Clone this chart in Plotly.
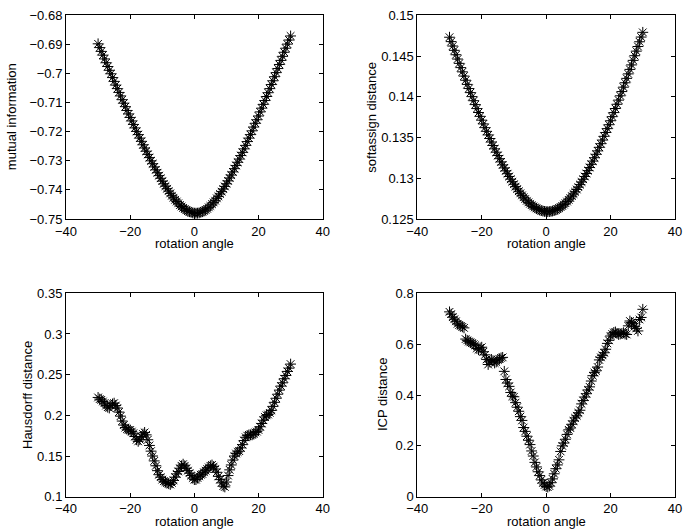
import plotly.graph_objects as go

# rotation angles (degrees), -30 .. 30 in 0.5 steps
angle = [i * 0.5 for i in range(-60, 61)]

mutual_information = [
    -0.6898, -0.6911, -0.6924, -0.6937, -0.6950, -0.6963, -0.6976, -0.6989, -0.7001, -0.7014,
    -0.7027, -0.7040, -0.7052, -0.7065, -0.7077, -0.7090, -0.7102, -0.7114, -0.7127, -0.7139,
    -0.7151, -0.7163, -0.7175, -0.7187, -0.7199, -0.7210, -0.7222, -0.7233, -0.7245, -0.7256,
    -0.7267, -0.7278, -0.7289, -0.7300, -0.7310, -0.7321, -0.7331, -0.7341, -0.7351, -0.7360,
    -0.7370, -0.7379, -0.7387, -0.7396, -0.7404, -0.7412, -0.7420, -0.7427, -0.7434, -0.7440,
    -0.7446, -0.7452, -0.7457, -0.7462, -0.7466, -0.7470, -0.7473, -0.7475, -0.7477, -0.7479,
    -0.7480, -0.7480, -0.7480, -0.7479, -0.7477, -0.7475, -0.7472, -0.7469, -0.7465, -0.7460,
    -0.7455, -0.7449, -0.7443, -0.7437, -0.7429, -0.7422, -0.7414, -0.7406, -0.7397, -0.7388,
    -0.7379, -0.7369, -0.7359, -0.7349, -0.7338, -0.7327, -0.7316, -0.7305, -0.7294, -0.7282,
    -0.7271, -0.7259, -0.7247, -0.7234, -0.7222, -0.7210, -0.7197, -0.7184, -0.7171, -0.7159,
    -0.7146, -0.7132, -0.7119, -0.7106, -0.7093, -0.7079, -0.7066, -0.7052, -0.7038, -0.7025,
    -0.7011, -0.6997, -0.6983, -0.6969, -0.6955, -0.6941, -0.6927, -0.6913, -0.6899, -0.6885,
    -0.6871,
]

softassign_distance = [
    0.14731, 0.14677, 0.14623, 0.14570, 0.14516, 0.14463, 0.14410, 0.14358, 0.14306, 0.14254,
    0.14203, 0.14152, 0.14101, 0.14051, 0.14002, 0.13952, 0.13904, 0.13855, 0.13807, 0.13760,
    0.13713, 0.13667, 0.13621, 0.13576, 0.13532, 0.13488, 0.13445, 0.13402, 0.13361, 0.13320,
    0.13279, 0.13240, 0.13201, 0.13164, 0.13127, 0.13091, 0.13056, 0.13022, 0.12989, 0.12957,
    0.12927, 0.12897, 0.12868, 0.12841, 0.12815, 0.12790, 0.12767, 0.12745, 0.12724, 0.12704,
    0.12687, 0.12670, 0.12655, 0.12642, 0.12630, 0.12619, 0.12610, 0.12603, 0.12597, 0.12593,
    0.12591, 0.12590, 0.12591, 0.12594, 0.12598, 0.12604, 0.12612, 0.12621, 0.12633, 0.12646,
    0.12660, 0.12677, 0.12694, 0.12714, 0.12735, 0.12757, 0.12781, 0.12807, 0.12834, 0.12862,
    0.12891, 0.12922, 0.12954, 0.12988, 0.13022, 0.13058, 0.13094, 0.13132, 0.13171, 0.13211,
    0.13252, 0.13294, 0.13336, 0.13380, 0.13424, 0.13469, 0.13515, 0.13562, 0.13609, 0.13657,
    0.13706, 0.13756, 0.13806, 0.13856, 0.13908, 0.13959, 0.14012, 0.14064, 0.14118, 0.14172,
    0.14226, 0.14281, 0.14336, 0.14391, 0.14447, 0.14504, 0.14560, 0.14617, 0.14675, 0.14733,
    0.14791,
]

hausdorff_distance = [
    0.222, 0.220, 0.219, 0.217, 0.215, 0.212, 0.210, 0.209, 0.212, 0.214,
    0.215, 0.212, 0.209, 0.204, 0.199, 0.193, 0.188, 0.185, 0.183, 0.182,
    0.182, 0.180, 0.178, 0.174, 0.170, 0.168, 0.170, 0.174, 0.177, 0.179,
    0.176, 0.170, 0.163, 0.156, 0.150, 0.144, 0.138, 0.132, 0.127, 0.124,
    0.121, 0.119, 0.118, 0.117, 0.116, 0.115, 0.117, 0.120, 0.124, 0.128,
    0.131, 0.135, 0.138, 0.140, 0.138, 0.135, 0.132, 0.129, 0.126, 0.123,
    0.121, 0.121, 0.123, 0.125, 0.127, 0.128, 0.130, 0.132, 0.134, 0.136,
    0.138, 0.139, 0.137, 0.134, 0.130, 0.125, 0.121, 0.117, 0.113, 0.112,
    0.118, 0.126, 0.133, 0.139, 0.145, 0.150, 0.153, 0.155, 0.156, 0.160,
    0.164, 0.169, 0.173, 0.175, 0.176, 0.176, 0.176, 0.177, 0.179, 0.180,
    0.182, 0.186, 0.190, 0.194, 0.198, 0.200, 0.201, 0.203, 0.206, 0.211,
    0.216, 0.221, 0.226, 0.231, 0.236, 0.240, 0.245, 0.249, 0.254, 0.258,
    0.263,
]

icp_distance = [
    0.727, 0.718, 0.706, 0.698, 0.690, 0.680, 0.675, 0.672, 0.668, 0.664,
    0.620, 0.615, 0.610, 0.607, 0.604, 0.600, 0.596, 0.583, 0.578, 0.585,
    0.588, 0.570, 0.558, 0.540, 0.520, 0.530, 0.540, 0.535, 0.526, 0.530,
    0.538, 0.542, 0.546, 0.548, 0.493, 0.461, 0.447, 0.434, 0.410, 0.395,
    0.393, 0.370, 0.352, 0.336, 0.315, 0.300, 0.272, 0.257, 0.238, 0.222,
    0.205, 0.180, 0.160, 0.135, 0.117, 0.098, 0.083, 0.066, 0.054, 0.046,
    0.040, 0.038, 0.042, 0.055, 0.070, 0.090, 0.110, 0.125, 0.145, 0.178,
    0.200, 0.211, 0.226, 0.245, 0.263, 0.270, 0.285, 0.298, 0.310, 0.318,
    0.330, 0.340, 0.365, 0.378, 0.392, 0.405, 0.420, 0.432, 0.455, 0.476,
    0.488, 0.495, 0.510, 0.538, 0.548, 0.556, 0.566, 0.580, 0.603, 0.615,
    0.632, 0.640, 0.646, 0.648, 0.642, 0.638, 0.640, 0.642, 0.645, 0.640,
    0.638, 0.672, 0.691, 0.685, 0.680, 0.670, 0.662, 0.652, 0.697, 0.705,
    0.737,
]

x_ticks = [-40, -20, 0, 20, 40]
x_ticklabels = ["\u221240", "\u221220", "0", "20", "40"]

y1_ticks = [-0.75, -0.74, -0.73, -0.72, -0.71, -0.70, -0.69, -0.68]
y1_labels = ["\u22120.75", "\u22120.74", "\u22120.73", "\u22120.72", "\u22120.71", "\u22120.7", "\u22120.69", "\u22120.68"]
y2_ticks = [0.125, 0.13, 0.135, 0.14, 0.145, 0.15]
y2_labels = ["0.125", "0.13", "0.135", "0.14", "0.145", "0.15"]
y3_ticks = [0.1, 0.15, 0.2, 0.25, 0.3, 0.35]
y3_labels = ["0.1", "0.15", "0.2", "0.25", "0.3", "0.35"]
y4_ticks = [0, 0.2, 0.4, 0.6, 0.8]
y4_labels = ["0", "0.2", "0.4", "0.6", "0.8"]

x_title = "rotation angle"
y_titles = ["mutual information", "softassign distance", "Hausdorff distance", "ICP distance"]

FONT = "Liberation Sans, Arial, Helvetica, sans-serif"
FS = 13

series = [mutual_information, softassign_distance, hausdorff_distance, icp_distance]
yranges = [[-0.75, -0.68], [0.125, 0.15], [0.1, 0.35], [0, 0.8]]
yticks = [(y1_ticks, y1_labels), (y2_ticks, y2_labels), (y3_ticks, y3_labels), (y4_ticks, y4_labels)]

W, H = 683, 531
boxes = [  # left, right, top, bottom in pixels
    (66, 322.7, 15.3, 219),
    (417.3, 675, 15.3, 219),
    (66, 322.7, 293.3, 496.7),
    (417.3, 675, 293.3, 496.7),
]
ytitle_x = [11, 371.5, 27, 382]      # centre of y-axis titles (px)
xtitle_y = [243, 243, 521, 521]      # centre of x-axis titles (px)

fig = go.Figure()
layout = dict(
    width=W, height=H,
    margin=dict(l=0, r=0, t=0, b=0),
    paper_bgcolor="white", plot_bgcolor="white",
    showlegend=False,
    font=dict(family=FONT, size=FS, color="black"),
)
annotations = []

for i, ys in enumerate(series):
    n = "" if i == 0 else str(i + 1)
    fig.add_trace(go.Scatter(
        x=angle, y=ys, mode="markers",
        marker=dict(symbol="asterisk-open", size=9, color="black",
                    line=dict(color="black", width=1)),
        xaxis="x" + n, yaxis="y" + n, hoverinfo="skip",
    ))
    l, r, t, b = boxes[i]
    common = dict(
        showline=True, mirror="allticks", linecolor="black", linewidth=1,
        ticks="inside", ticklen=4, tickcolor="black", tickwidth=1,
        showgrid=False, zeroline=False, automargin=False,
        tickfont=dict(family=FONT, size=FS, color="black"),
    )
    layout["xaxis" + n] = dict(
        common, domain=[l / W, r / W], range=[-40, 40],
        tickmode="array", tickvals=x_ticks, ticktext=x_ticklabels,
        anchor="y" + n,
    )
    tv, tt = yticks[i]
    layout["yaxis" + n] = dict(
        common, domain=[1 - b / H, 1 - t / H], range=yranges[i],
        tickmode="array", tickvals=tv, ticktext=tt,
        anchor="x" + n,
    )
    annotations.append(dict(
        text=x_title, xref="paper", yref="paper",
        x=(l + r) / 2 / W, y=1 - xtitle_y[i] / H,
        xanchor="center", yanchor="middle", showarrow=False,
        font=dict(family=FONT, size=FS, color="black"),
    ))
    annotations.append(dict(
        text=y_titles[i], xref="paper", yref="paper",
        x=ytitle_x[i] / W, y=1 - (t + b) / 2 / H,
        xanchor="center", yanchor="middle", textangle=-90, showarrow=False,
        font=dict(family=FONT, size=FS, color="black"),
    ))

layout["annotations"] = annotations
fig.update_layout(**layout)
fig.write_html(
    "out.html",
    config={"displayModeBar": False, "staticPlot": True},
    post_script="document.body.style.margin='0';document.body.style.overflow='hidden';",
)
